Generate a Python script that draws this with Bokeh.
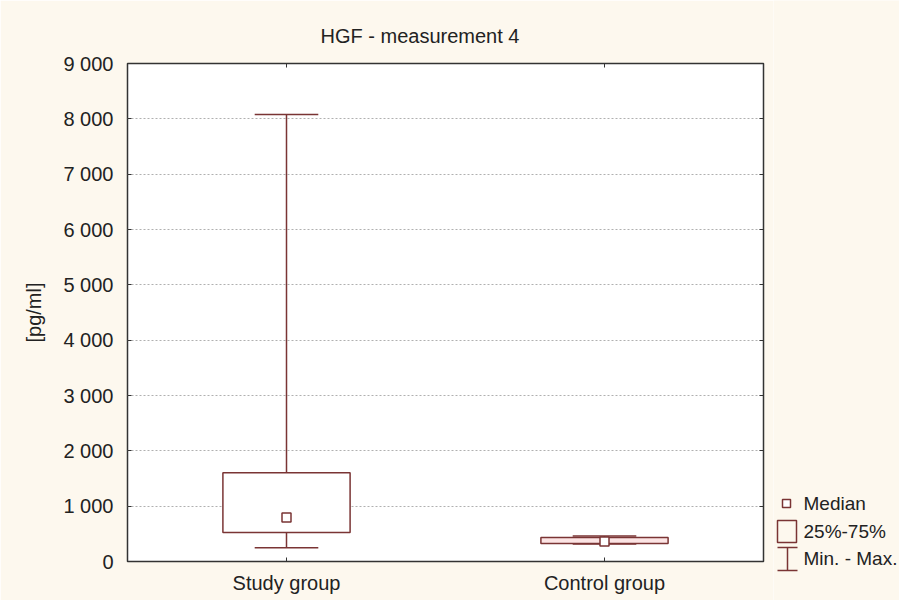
from bokeh.plotting import figure
from bokeh.models import Range1d, FixedTicker, LinearAxis, ColumnDataSource
from bokeh.layouts import row
from bokeh.transform import dodge
from bokeh.embed import file_html
from bokeh.resources import INLINE
from bokeh.core.properties import value

# ---- data ----
categories = ["Study group", "Control group"]
min_vals = [250, 315]
q1_vals = [525, 325]
median_vals = [795, 360]
q3_vals = [1605, 435]
max_vals = [8080, 460]

y_ticks = [0, 1000, 2000, 3000, 4000, 5000, 6000, 7000, 8000, 9000]
y_tick_labels = ["0", "1 000", "2 000", "3 000", "4 000", "5 000",
                 "6 000", "7 000", "8 000", "9 000"]
legend_labels = ["Median", "25%-75%", "Min. - Max."]
title_text = "HGF - measurement 4"
y_label = "[pg/ml]"

# ---- styles ----
BG = "#fdf8ee"
LINE = "#7a3434"
TEXT = "#222222"
FONT = "Liberation Sans"
box_fills = ["white", "#fce4e4"]

# category slots: each category occupies one unit, centred at i + 0.5
xpos = [i + 0.5 for i in range(len(categories))]

src = ColumnDataSource(dict(x=xpos, mn=min_vals, q1=q1_vals,
                            med=median_vals, q3=q3_vals, mx=max_vals,
                            fill=box_fills))

p = figure(x_range=Range1d(0, len(categories)),
           y_range=Range1d(0, 9000),
           width=773, height=600, output_backend="svg", toolbar_location=None,
           min_border_left=127, min_border_right=10, min_border_top=63,
           min_border_bottom=39, background_fill_color="white",
           border_fill_color=BG, outline_line_color="#333333",
           outline_line_width=1.5)
p.frame_align = False

p.title.text = title_text
p.title.text_font = FONT
p.title.text_font_size = "20px"
p.title.text_font_style = "normal"
p.title.text_color = TEXT
p.title.align = "left"
p.title.offset = 193
p.title.standoff = 33

# grid
p.xgrid.visible = False
p.ygrid.ticker = FixedTicker(ticks=y_ticks)
p.ygrid.grid_line_color = "#b0b0b0"
p.ygrid.grid_line_dash = "2 2"
p.ygrid.grid_line_width = 1

# axes
for ax in (p.xaxis[0], p.yaxis[0]):
    ax.axis_line_color = None
    ax.major_tick_in = 4
    ax.major_tick_out = 0
    ax.major_tick_line_color = "#333333"
    ax.minor_tick_line_color = None
    ax.major_label_text_font = FONT
    ax.major_label_text_font_size = "20px"
    ax.major_label_text_color = TEXT

p.xaxis.ticker = FixedTicker(ticks=xpos)
p.xaxis.major_label_overrides = dict(zip(xpos, categories))
p.xaxis.major_label_standoff = 10

p.yaxis.ticker = FixedTicker(ticks=y_ticks)
p.yaxis.major_label_overrides = dict(zip(y_ticks, y_tick_labels))
p.yaxis.major_label_standoff = 14
p.yaxis.axis_label = y_label
p.yaxis.axis_label_text_font = FONT
p.yaxis.axis_label_text_font_size = "20px"
p.yaxis.axis_label_text_font_style = "normal"
p.yaxis.axis_label_text_color = TEXT
p.yaxis.axis_label_standoff = 15

# inward ticks on the right and top edges (no labels)
right_ax = LinearAxis(ticker=FixedTicker(ticks=y_ticks),
                      major_label_overrides={t: "" for t in y_ticks},
                      axis_line_color=None, major_tick_in=4, major_tick_out=0,
                      major_tick_line_color="#333333", minor_tick_line_color=None,
                      major_label_standoff=0)
p.add_layout(right_ax, "right")
top_ax = LinearAxis(ticker=FixedTicker(ticks=xpos),
                    major_label_overrides={t: "" for t in xpos},
                    axis_line_color=None, major_tick_in=4, major_tick_out=0,
                    major_tick_line_color="#333333", minor_tick_line_color=None,
                    major_label_standoff=0)
p.add_layout(top_ax, "above")

# whiskers
p.segment(x0="x", y0="q3", x1="x", y1="mx", source=src,
          line_color=LINE, line_width=1.5)
p.segment(x0="x", y0="q1", x1="x", y1="mn", source=src,
          line_color=LINE, line_width=1.5)
# boxes
p.vbar(x="x", width=0.4, bottom="q1", top="q3", source=src,
       fill_color="fill", line_color=LINE, line_width=1.5)
# caps
p.segment(x0=dodge("x", -0.1), y0="mx", x1=dodge("x", 0.1), y1="mx",
          source=src, line_color=LINE, line_width=1.5)
p.segment(x0=dodge("x", -0.1), y0="mn", x1=dodge("x", 0.1), y1="mn",
          source=src, line_color=LINE, line_width=1.5)
# medians
p.scatter(x="x", y="med", source=src, marker="square", size=9,
          fill_color="white", line_color=LINE, line_width=1.5)

# ---- legend panel (pixel coordinates) ----
lf = figure(width=126, height=600, x_range=Range1d(0, 126),
            y_range=Range1d(600, 0), output_backend="svg",
            toolbar_location=None, x_axis_type=None, y_axis_type=None,
            min_border=0, background_fill_color=BG, border_fill_color=BG,
            outline_line_color=None)
lf.frame_align = False
lf.grid.visible = False
lf.scatter(x=[13], y=[503], marker="square", size=8, fill_color="white",
           line_color=LINE, line_width=1.5)
lf.quad(left=[4], right=[23], top=[520], bottom=[542], fill_color=None,
        line_color=LINE, line_width=1.5)
lf.segment(x0=[14, 4, 4], y0=[547, 547, 570], x1=[14, 24, 24], y1=[570, 547, 570],
           line_color=LINE, line_width=1.5)
lf.text(x=[30, 30, 30], y=[503, 531, 558], text=legend_labels,
        text_baseline="middle", text_align="left", text_font=value(FONT),
        text_font_size="19px", text_color=TEXT)

layout = row(p, lf, spacing=0)
open("out.html", "w").write(file_html(layout, INLINE))
